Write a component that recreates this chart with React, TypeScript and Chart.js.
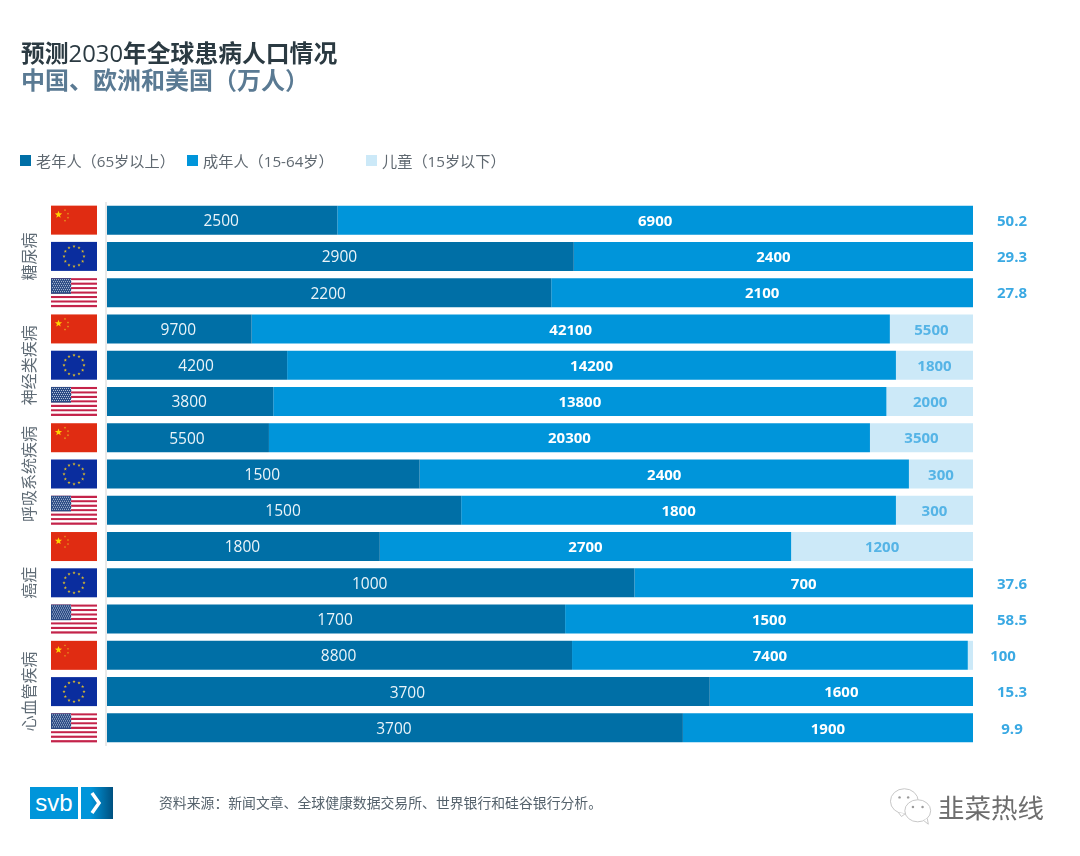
import React, { useEffect, useRef } from "react";
import { Chart, registerables } from "chart.js";

Chart.register(...registerables);

const diseases = ["糖尿病", "神经类疾病", "呼吸系统疾病", "癌症", "心血管疾病"];
const regions = ["中国", "欧洲", "美国"];
const categories = diseases.flatMap((d) => regions.map((r) => `${d}-${r}`));

// Labels printed on the bars (万人)
const elderlyLabels = [2500, 2900, 2200, 9700, 4200, 3800, 5500, 1500, 1500, 1800, 1000, 1700, 8800, 3700, 3700];
const adultLabels = [6900, 2400, 2100, 42100, 14200, 13800, 20300, 2400, 1800, 2700, 700, 1500, 7400, 1600, 1900];
const childLabels = ["50.2", "29.3", "27.8", "5500", "1800", "2000", "3500", "300", "300", "1200", "37.6", "58.5", "100", "15.3", "9.9"];

// Share of each bar's length (%)
const elderlyShare = [26.6, 53.9, 51.3, 16.7, 20.8, 19.2, 18.7, 36.1, 40.9, 31.5, 60.9, 52.9, 53.7, 69.6, 66.5];
const adultShare = [73.4, 46.1, 48.7, 73.7, 70.3, 70.8, 69.4, 56.5, 50.2, 47.5, 39.1, 47.1, 45.7, 30.4, 33.5];
const childShare = [0, 0, 0, 9.6, 8.9, 10.1, 11.9, 7.4, 8.9, 21.0, 0, 0, 0.6, 0, 0];

const DARK = "#006fa6";
const MID = "#0095da";
const LIGHT = "#cce9f8";
const NUM_FONT = '"Open Sans", "Noto Sans", sans-serif';
const CJK = '"Noto Sans CJK SC", sans-serif';

function star(ctx: CanvasRenderingContext2D, cx: number, cy: number, r: number, color: string) {
  ctx.fillStyle = color;
  ctx.beginPath();
  for (let i = 0; i < 10; i++) {
    const rad = i % 2 === 0 ? r : r * 0.42;
    const a = -Math.PI / 2 + (i * Math.PI) / 5;
    const x = cx + rad * Math.cos(a);
    const y = cy + rad * Math.sin(a);
    if (i === 0) ctx.moveTo(x, y);
    else ctx.lineTo(x, y);
  }
  ctx.closePath();
  ctx.fill();
}

function drawFlag(ctx: CanvasRenderingContext2D, kind: number, x: number, cy: number) {
  const w = 46;
  const h = 29;
  const y = cy - h / 2;
  if (kind === 0) {
    ctx.fillStyle = "#e02c12";
    ctx.fillRect(x, y, w, h);
    star(ctx, x + 7.5, y + 9, 3.8, "#ffd400");
    star(ctx, x + 14, y + 4.5, 1.2, "#e8b020");
    star(ctx, x + 17, y + 8, 1.2, "#e8b020");
    star(ctx, x + 17, y + 12, 1.2, "#e8b020");
    star(ctx, x + 14, y + 15, 1.2, "#e8b020");
  } else if (kind === 1) {
    ctx.fillStyle = "#0a2d9e";
    ctx.fillRect(x, y, w, h);
    for (let i = 0; i < 12; i++) {
      const a = (i * Math.PI) / 6;
      star(ctx, x + w / 2 + 10 * Math.sin(a), cy - 10 * Math.cos(a), 1.7, "#d9b92e");
    }
  } else {
    const sh = h / 13;
    for (let i = 0; i < 13; i++) {
      ctx.fillStyle = i % 2 === 0 ? "#c4234a" : "#ffffff";
      ctx.fillRect(x, y + i * sh, w, sh);
    }
    ctx.fillStyle = "#2a4a84";
    ctx.fillRect(x, y, 20, sh * 7);
    ctx.fillStyle = "#b8c6dc";
    for (let r = 0; r < 7; r++) {
      for (let c = 0; c < 10; c++) {
        ctx.fillRect(x + 1 + c * 2 + (r % 2), y + 1 + r * 2, 1, 1);
      }
    }
  }
}

const decorPlugin = {
  id: "decor",
  beforeDatasetsDraw(chart: any) {
    const { ctx, chartArea, scales } = chart;
    ctx.save();
    ctx.strokeStyle = "#e2e2e2";
    ctx.lineWidth = 1.5;
    ctx.beginPath();
    ctx.moveTo(chartArea.left - 1, chartArea.top);
    ctx.lineTo(chartArea.left - 1, chartArea.bottom);
    ctx.stroke();
    categories.forEach((_, i) => {
      drawFlag(ctx, i % 3, 51, scales.y.getPixelForValue(i));
    });
    diseases.forEach((d, i) => {
      const cy = scales.y.getPixelForValue(i * 3 + 1);
      ctx.save();
      ctx.translate(29, cy);
      ctx.rotate(-Math.PI / 2);
      ctx.font = `16px ${CJK}`;
      ctx.fillStyle = "#5f6b75";
      ctx.textAlign = "center";
      ctx.textBaseline = "middle";
      ctx.fillText(d, 0, 0);
      ctx.restore();
    });
    ctx.restore();
  },
  afterDatasetsDraw(chart: any) {
    const { ctx, scales, chartArea } = chart;
    const x = scales.x;
    ctx.save();
    ctx.textAlign = "center";
    ctx.textBaseline = "middle";
    categories.forEach((_, i) => {
      const y = scales.y.getPixelForValue(i) + 1.5;
      const e = elderlyShare[i];
      const a = adultShare[i];
      const c = childShare[i];
      ctx.font = `15.5px ${NUM_FONT}`;
      ctx.fillStyle = "#eaf4f9";
      ctx.fillText(String(elderlyLabels[i]), x.getPixelForValue(e / 2) - 1, y);
      ctx.font = `bold 15px ${NUM_FONT}`;
      ctx.fillStyle = "#ffffff";
      ctx.fillText(String(adultLabels[i]), x.getPixelForValue(e + a / 2), y);
      if (c > 2) {
        ctx.fillStyle = "#55b4e6";
        ctx.fillText(childLabels[i], x.getPixelForValue(e + a + c / 2), y);
      } else {
        ctx.fillStyle = "#3aa9e3";
        const side = chartArea.right + (childLabels[i] === "100" ? 30 : 39);
        ctx.fillText(childLabels[i], side, y);
      }
    });
    ctx.restore();
  },
};

function LegendItem({ left, color, text }: { left: number; color: string; text: string }) {
  return (
    <>
      <div style={{ position: "absolute", left, top: 155, width: 11, height: 11, background: color }} />
      <div
        style={{
          position: "absolute",
          left: left + 16,
          top: 150,
          lineHeight: "22px",
          fontSize: 15.2,
          color: "#5f6870",
          whiteSpace: "nowrap",
          fontFamily: `"Open Sans", ${CJK}`,
        }}
      >
        {text}
      </div>
    </>
  );
}

export default function App() {
  const ref = useRef<HTMLCanvasElement>(null);

  useEffect(() => {
    const chart = new Chart(ref.current as HTMLCanvasElement, {
      type: "bar",
      data: {
        labels: categories,
        datasets: [
          { label: "老年人（65岁以上）", data: elderlyShare, backgroundColor: DARK },
          { label: "成年人（15-64岁）", data: adultShare, backgroundColor: MID },
          { label: "儿童（15岁以下）", data: childShare, backgroundColor: LIGHT },
        ],
      },
      options: {
        indexAxis: "y",
        animation: false,
        responsive: false,
        layout: { padding: { left: 107, right: 107, top: 202, bottom: 110 } },
        datasets: { bar: { barPercentage: 0.8, categoryPercentage: 1 } },
        plugins: { legend: { display: false }, title: { display: false }, tooltip: { enabled: false } },
        scales: {
          x: { stacked: true, min: 0, max: 100, display: false },
          y: { stacked: true, display: false },
        },
      },
      plugins: [decorPlugin],
    } as any);
    return () => chart.destroy();
  }, []);

  return (
    <div style={{ position: "absolute", left: 0, top: 0, width: 1080, height: 856, background: "#fff", overflow: "hidden" }}>
      <canvas ref={ref} width={1080} height={856} style={{ position: "absolute", left: 0, top: 0 }} />

      <div
        style={{
          position: "absolute",
          left: 21,
          top: 35,
          lineHeight: "34px",
          fontSize: 23.8,
          fontWeight: 700,
          color: "#2b3a42",
          whiteSpace: "nowrap",
          fontFamily: CJK,
        }}
      >
        预测<span style={{ fontWeight: 400, fontFamily: '"Open Sans", sans-serif' }}>2030</span>年全球患病人口情况
      </div>
      <div
        style={{
          position: "absolute",
          left: 21,
          top: 62,
          lineHeight: "34px",
          fontSize: 24,
          fontWeight: 700,
          color: "#5a7a93",
          whiteSpace: "nowrap",
          fontFamily: CJK,
        }}
      >
        中国、欧洲和美国（万人）
      </div>

      <LegendItem left={20} color={DARK} text="老年人（65岁以上）" />
      <LegendItem left={187} color={MID} text="成年人（15-64岁）" />
      <LegendItem left={366} color={LIGHT} text="儿童（15岁以下）" />

      <div
        style={{
          position: "absolute",
          left: 30,
          top: 787,
          width: 48,
          height: 32,
          background: MID,
          color: "#fff",
          textAlign: "center",
          lineHeight: "31px",
          fontSize: 24,
          fontFamily: '"Liberation Sans Narrow", "Liberation Sans", sans-serif',
        }}
      >
        svb
      </div>
      <svg style={{ position: "absolute", left: 81, top: 787 }} width={32} height={32} viewBox="0 0 32 32">
        <defs>
          <linearGradient id="svbArrow" x1="0" x2="1" y1="0" y2="0">
            <stop offset="0.3" stopColor={MID} />
            <stop offset="1" stopColor="#00507f" />
          </linearGradient>
        </defs>
        <rect width="32" height="32" fill="url(#svbArrow)" />
        <path d="M11 6 L18 16 L11 26" fill="none" stroke="#fff" strokeWidth="3.5" />
      </svg>

      <div
        style={{
          position: "absolute",
          left: 159,
          top: 791,
          lineHeight: "22px",
          fontSize: 13.85,
          color: "#55626c",
          whiteSpace: "nowrap",
          fontFamily: CJK,
        }}
      >
        资料来源：新闻文章、全球健康数据交易所、世界银行和硅谷银行分析。
      </div>

      <svg style={{ position: "absolute", left: 889, top: 784 }} width={46} height={44} viewBox="0 0 48 44">
        <g fill="#fff" stroke="#c4c4c4" strokeWidth="1">
          <ellipse cx="16" cy="17" rx="14.5" ry="13" />
          <path d="M10 29 L13 33 L17 30" />
          <ellipse cx="30" cy="27" rx="13.5" ry="11.5" />
          <path d="M36 37 L41 41 L40 35" />
        </g>
        <g fill="#9a9a9a">
          <circle cx="11" cy="13" r="1.3" />
          <circle cx="20" cy="13" r="1.3" />
          <circle cx="25" cy="23" r="1.3" />
          <circle cx="35" cy="23" r="1.3" />
        </g>
      </svg>
      <div
        style={{
          position: "absolute",
          left: 938,
          top: 789,
          lineHeight: "36px",
          fontSize: 26.5,
          color: "#6e6e6e",
          whiteSpace: "nowrap",
          fontFamily: CJK,
        }}
      >
        韭菜热线
      </div>
    </div>
  );
}
